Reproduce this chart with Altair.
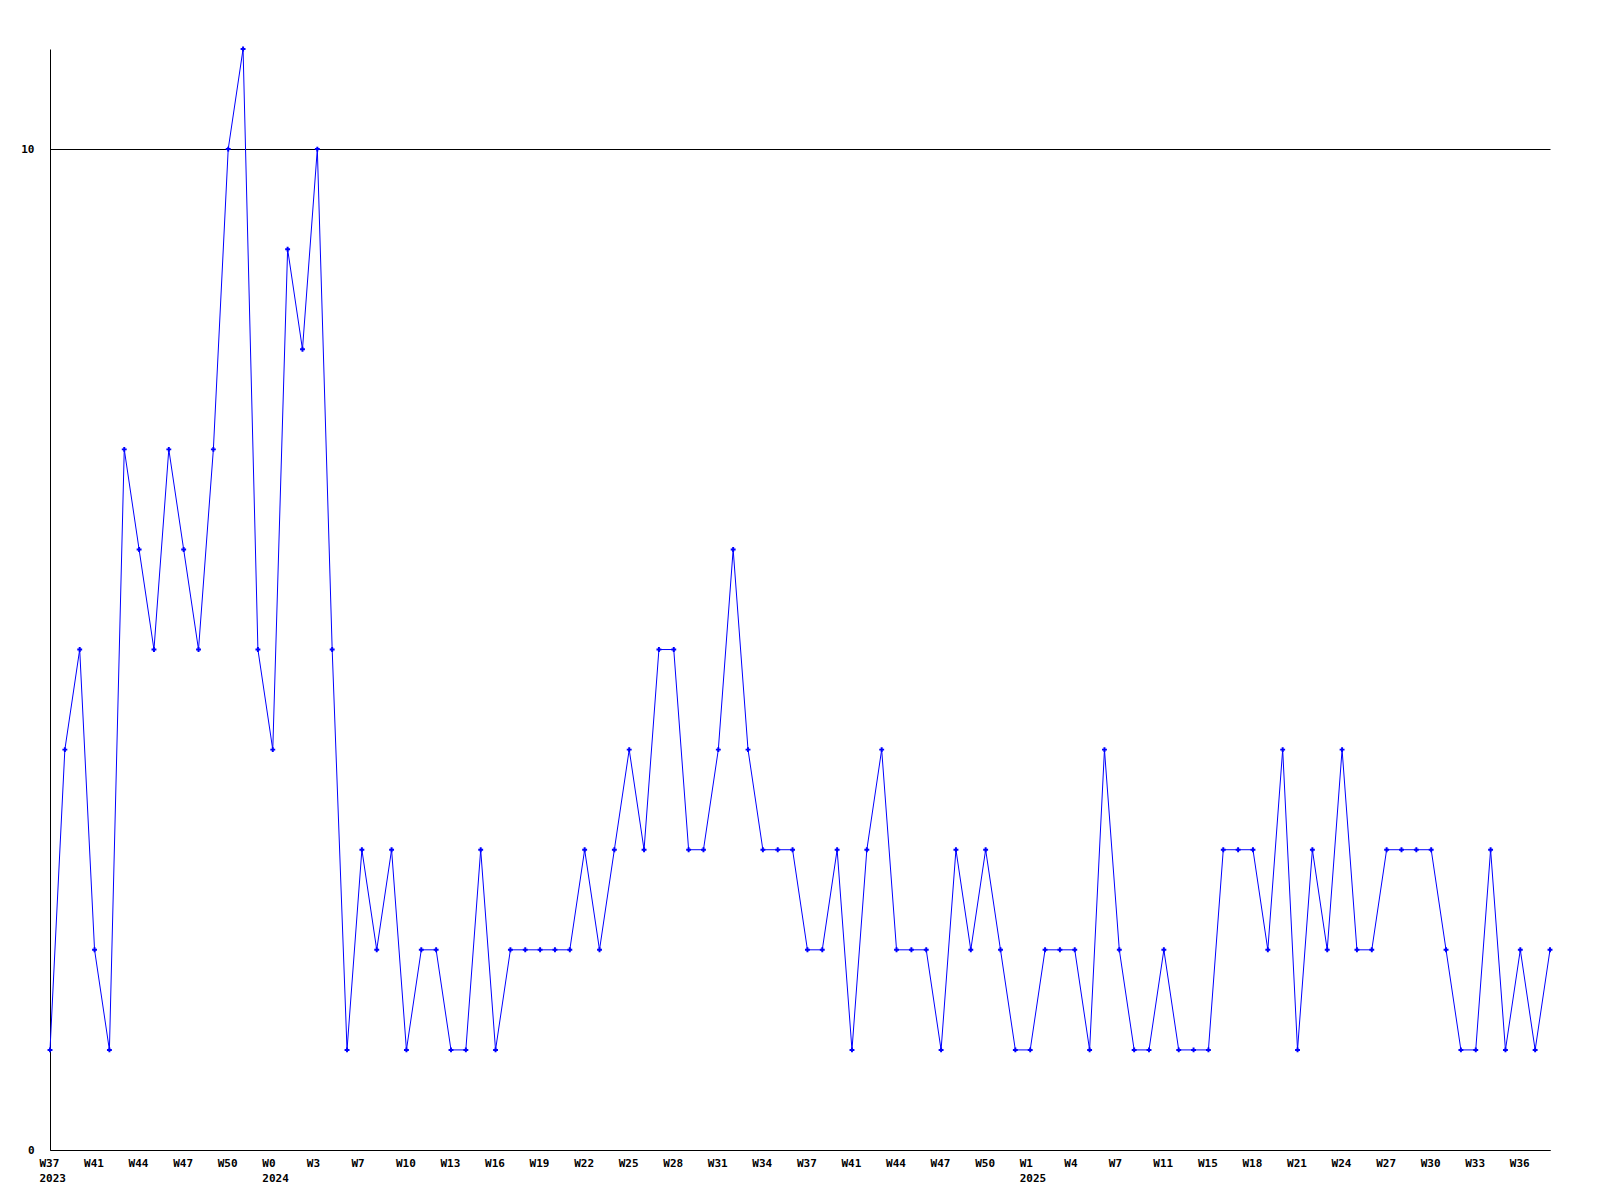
import altair as alt
import pandas as pd
import json

values = [1, 4, 5, 2, 1, 7, 6, 5, 7, 6, 5, 7, 10, 11, 5, 4, 9, 8, 10, 5,
          1, 3, 2, 3, 1, 2, 2, 1, 1, 3, 1, 2, 2, 2, 2, 2, 3, 2, 3, 4,
          3, 5, 5, 3, 3, 4, 6, 4, 3, 3, 3, 2, 2, 3, 1, 3, 4, 2, 2, 2,
          1, 3, 2, 3, 2, 1, 1, 2, 2, 2, 1, 4, 2, 1, 1, 2, 1, 1, 1, 3,
          3, 3, 2, 4, 1, 3, 2, 4, 2, 2, 3, 3, 3, 3, 2, 1, 1, 3, 1, 2,
          1, 2]

week_labels = ["W37", "W41", "W44", "W47", "W50", "W0", "W3", "W7", "W10", "W13",
               "W16", "W19", "W22", "W25", "W28", "W31", "W34", "W37", "W41", "W44",
               "W47", "W50", "W1", "W4", "W7", "W11", "W15", "W18", "W21", "W24",
               "W27", "W30", "W33", "W36"]
year_labels = ["2023", "", "", "", "", "2024", "", "", "", "",
               "", "", "", "", "", "", "", "", "", "",
               "", "", "2025", "", "", "", "", "", "", "",
               "", "", "", ""]

df = pd.DataFrame({"i": list(range(len(values))), "v": values})
tick_vals = [3 * k for k in range(len(week_labels))]

label_expr = "[{w}[datum.value/3], {y}[datum.value/3]]".format(
    w=json.dumps(week_labels).replace('"', "'"),
    y=json.dumps(year_labels).replace('"', "'"))

font = "DejaVu Sans Mono"

x = alt.X("i:Q", scale=alt.Scale(domain=[0, len(values) - 1], nice=False, zero=False),
          axis=alt.Axis(values=tick_vals, labelExpr=label_expr, title=None, ticks=False,
                        grid=False, domainColor="black", labelFont=font, labelFontSize=11,
                        labelFontWeight="bold", labelColor="black", labelPadding=7,
                        labelLineHeight=15, labelAlign="left", labelBaseline="top",
                        labelOffset=-11, labelOverlap=False, labelFlush=False))
y = alt.Y("v:Q", scale=alt.Scale(domain=[0, 11], nice=False),
          axis=alt.Axis(values=[0, 10], title=None, ticks=False, grid=True,
                        gridColor="black", gridOpacity=1, gridWidth=1,
                        domainColor="black", labelFont=font, labelFontSize=11,
                        labelFontWeight="bold", labelColor="black", labelPadding=16))

line = alt.Chart(df).mark_line(color="#0000FF", strokeWidth=1).encode(x=x, y=y)
pts = alt.Chart(df).mark_point(shape="cross", filled=True, size=24, color="#0000FF",
                               opacity=1).encode(x=x, y=y)

chart = (line + pts).properties(
    width=1500, height=1101,
    autosize=alt.AutoSizeParams(type="none"),
    padding={"left": 42, "top": 41, "right": 20, "bottom": 40},
).configure(background="white").configure_view(stroke=None, strokeWidth=0)

chart.save("out.html", embed_options={"renderer": "svg", "actions": False})
